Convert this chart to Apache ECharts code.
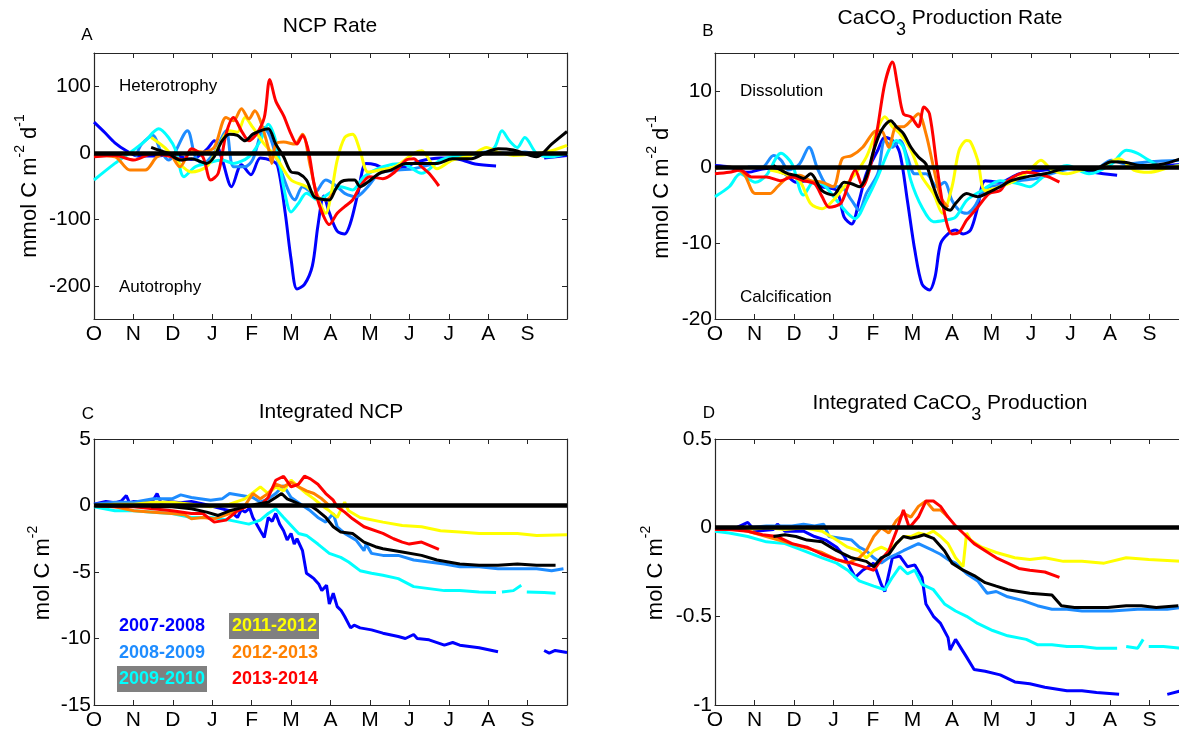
<!DOCTYPE html>
<html>
<head>
<meta charset="utf-8">
<script src="https://cdn.jsdelivr.net/npm/echarts@6/dist/echarts.min.js"></script>
<style>
  html, body { margin: 0; padding: 0; background: #fff; overflow: hidden; }
  /* a little wider than the window: panels B and D run past the right edge */
  #chart { width: 1200px; height: 731px; }
</style>
</head>
<body>
<div id="chart"></div>
<script>
  // x is months since 1 October
  var months = ['O', 'N', 'D', 'J', 'F', 'M', 'A', 'M', 'J', 'J', 'A', 'S', '']
  var years = ['2007-2008', '2008-2009', '2009-2010', '2011-2012', '2012-2013', '2013-2014']

  // A: NCP rate (mmol C m-2 d-1)
  var ncpRate0708 = [[0, 46], [0.28, 30], [0.53, 15], [0.82, 3], [1.11, -5], [1.5, -5], [1.98, -3], [2.47, -10], [2.86, 5], [3.05, 18], [3.25, -10], [3.49, -51], [3.74, -18], [3.98, -33], [4.22, -8], [4.51, -12], [4.66, -20], [4.85, -90], [5.0, -160], [5.15, -205], [5.34, -198], [5.54, -170], [5.68, -110], [5.83, -65], [5.97, -90], [6.17, -118], [6.36, -122], [6.51, -105], [6.7, -60], [6.9, -16], [7.14, -18], [7.43, -25], [7.82, -22], [8.31, -12], [8.79, -8], [9.28, -10], [9.67, -17], [10.2, -20], [10.8, null], [11.42, -8], [12, -4]]
  var ncpRate0809 = [[1.06, -6], [1.21, 13], [1.5, 26], [1.69, 3], [1.89, -11], [2.37, 33], [2.57, -6], [2.76, -16], [3.05, 0], [3.35, 33], [3.54, -21], [3.83, -21], [4.03, -10], [4.32, 38], [4.46, 25], [4.71, -21], [5.1, -71], [5.29, -51], [5.58, -61], [5.88, -41], [6.17, -51], [6.36, -61], [6.65, -66], [6.95, -51], [7.24, -31], [7.72, -26], [8.11, -24], [8.79, -14], [9.28, -6], [9.96, 1], [10.54, -1], [10.93, 1], [11.42, -4], [12, -1]]
  var ncpRate0910 = [[0, -41], [0.53, -16], [0.91, 0], [1.3, 18], [1.64, 36], [1.89, 23], [2.08, 3], [2.28, -36], [2.57, -21], [2.86, -16], [3.25, -11], [3.54, -16], [3.93, -6], [4.22, 18], [4.42, 43], [4.61, 18], [4.81, -51], [5.0, -89], [5.19, -76], [5.39, -61], [5.68, -71], [5.97, -61], [6.26, -51], [6.56, -56], [6.85, -36], [7.33, -21], [7.82, -16], [8.31, -31], [8.79, -11], [9.28, -4], [9.86, -1], [10.16, 8], [10.35, 33], [10.54, 18], [10.74, 8], [10.93, 23], [11.23, -1], [11.61, -6], [12, -1]]
  var ncpRate1112 = [[1.45, 23], [1.79, 8], [2.08, -11], [2.47, -29], [2.86, -21], [3.15, 8], [3.44, 33], [3.64, 31], [3.83, 53], [4.03, 38], [4.32, 13], [4.61, -6], [5.0, -41], [5.39, -51], [5.68, -71], [5.88, -91], [6.02, -61], [6.17, -11], [6.36, 23], [6.56, 28], [6.75, 3], [6.95, -29], [7.24, -26], [7.63, -21], [8.11, -1], [8.31, 3], [8.7, -24], [9.09, -11], [9.57, -4], [9.96, 8], [10.25, 1], [10.64, -4], [11.23, -1], [11.61, 3], [12, 11]]
  var ncpRate1213 = [[0, -4], [0.53, -6], [0.91, -26], [1.3, -26], [1.6, -6], [1.89, -1], [2.18, -21], [2.47, 3], [2.76, 1], [3.05, 8], [3.35, 53], [3.54, 48], [3.74, 66], [3.93, 51], [4.08, 63], [4.22, 48], [4.42, 8], [4.51, -16], [4.61, 13], [4.81, 16], [5.1, 13], [5.29, 28], [5.49, -21], [5.68, -66], [5.88, -71], [6.07, -61]]
  var ncpRate1314 = [[0, -6], [0.53, -4], [1.01, -11], [1.5, -1], [1.98, -6], [2.28, -11], [2.47, 6], [2.76, -6], [2.96, -41], [3.15, -31], [3.35, 28], [3.54, 53], [3.74, 33], [3.93, 18], [4.12, 28], [4.32, 53], [4.46, 110], [4.61, 78], [4.81, 56], [5.0, 28], [5.15, 13], [5.29, 26], [5.44, 3], [5.58, -46], [5.73, -81], [5.97, -108], [6.17, -91], [6.36, -81], [6.56, -71], [6.75, -51], [6.99, -36], [7.33, -39], [7.63, -29], [7.92, -11], [8.11, -9], [8.31, -21], [8.5, -31], [8.75, -50]]
  var ncpRateMean = [[1.45, 8], [1.69, 3], [1.89, -1], [2.18, -11], [2.47, -9], [2.86, -16], [3.05, -6], [3.25, 18], [3.44, 28], [3.64, 26], [3.83, 18], [4.03, 28], [4.22, 33], [4.42, 36], [4.61, 13], [4.81, -6], [5.0, -29], [5.19, -31], [5.39, -41], [5.58, -66], [5.78, -70], [5.97, -71], [6.12, -56], [6.26, -44], [6.46, -41], [6.61, -41], [6.75, -51], [6.95, -44], [7.24, -31], [7.53, -26], [7.92, -16], [8.31, -16], [8.7, -16], [9.09, -9], [9.57, -9], [9.96, 1], [10.25, 6], [10.64, 4], [11.23, -6], [11.61, 13], [12, 32]]

  // B: CaCO3 production rate (mmol C m-2 d-1)
  var caRate0708 = [[0, 0.2], [0.36, 0], [0.83, -0.7], [1.3, -0.2], [1.77, -0.9], [2.05, -2], [2.33, -1.8], [2.71, -2.6], [3.08, -3.1], [3.27, -6.6], [3.46, -7.5], [3.65, -4.4], [3.83, -0.9], [4.12, 2.2], [4.3, 3.9], [4.49, 3.5], [4.68, 1.8], [4.87, -4.4], [5.06, -11], [5.24, -15.4], [5.43, -16.2], [5.57, -14.5], [5.71, -10.1], [5.9, -8.8], [6.09, -8.3], [6.28, -8.8], [6.47, -8.3], [6.65, -5.3], [6.84, -1.8], [7.22, -2], [7.69, -0.9], [8.35, -0.4], [8.91, -0.2], [9.57, -0.7], [10.18, -1.1], [10.8, null], [11.4, 0.2], [12, 0.4]]
  var caRate0809 = [[0.83, 0], [1.2, 0], [1.48, 1.5], [1.67, 0.9], [1.86, -0.4], [2.14, 0.4], [2.38, 2.6], [2.61, -0.4], [2.89, -2.6], [3.18, -2.6], [3.46, -4.4], [3.65, -5.7], [3.83, -3.5], [4.12, -0.9], [4.3, 3.5], [4.49, 2.6], [4.68, 3.5], [4.87, 1.3], [5.06, -0.9], [5.34, -0.9], [5.62, -2.6], [5.81, -2], [6.0, -4.4], [6.18, -5.7], [6.37, -6.1], [6.56, -5.3], [6.75, -3.5], [6.94, -2.6], [7.22, -2.4], [7.69, -1.8], [8.16, -1.5], [8.63, -0.7], [9.1, -0.2], [9.57, -0.4], [10.04, 0.9], [10.41, 0.4], [10.98, 0.7], [11.8, 0.9]]
  var caRate0910 = [[0, -3.9], [0.36, -2.6], [0.64, -0.9], [1.02, -2], [1.3, -1.1], [1.67, 1.8], [1.95, 0.4], [2.24, -3.7], [2.52, -1.8], [2.8, -2.6], [3.08, -4.4], [3.36, -6.1], [3.55, -6.8], [3.83, -4.4], [4.12, -1.3], [4.4, 2.2], [4.59, 3.5], [4.77, 2.6], [4.96, -1.8], [5.24, -5.3], [5.53, -7.2], [5.81, -7], [6.09, -6.6], [6.37, -4.4], [6.75, -3.1], [7.22, -1.8], [7.69, -2.2], [7.97, -2.6], [8.35, -1.1], [8.91, 0.2], [9.47, -0.9], [10.04, 0.4], [10.41, 2.2], [10.7, 1.8], [10.98, 0.9], [11.35, 0], [11.8, 0.2]]
  var caRate1112 = [[1.39, -0.4], [1.77, -0.9], [2.14, -1.8], [2.42, -4.8], [2.71, -5.5], [2.99, -4.4], [3.27, -2.6], [3.55, -0.9], [3.83, 1.3], [4.07, 4.4], [4.3, 6.6], [4.49, 5.3], [4.68, 4.4], [4.96, 2.2], [5.24, -1.3], [5.53, -3.5], [5.76, -6.1], [6.0, -2.6], [6.18, 2.2], [6.37, 3.5], [6.47, 3.3], [6.65, 0.9], [6.84, -3.1], [7.22, -2.6], [7.59, -1.8], [7.97, -0.4], [8.25, 0.9], [8.53, -0.4], [8.91, -0.9], [9.29, -0.4], [9.76, 0], [10.23, 1.1], [10.6, -0.4], [10.98, -0.7], [11.54, 0], [11.8, 0.2]]
  var caRate1213 = [[0, -0.2], [0.36, 0], [0.73, -0.9], [1.02, -3.5], [1.39, -3.5], [1.58, -2.6], [1.86, -1.3], [2.14, -1.1], [2.42, -1.8], [2.71, -2], [2.99, -2.6], [3.22, 1.1], [3.46, 1.5], [3.74, 2.6], [4.02, 4.6], [4.21, 4.8], [4.4, 2.6], [4.59, 5.3], [4.77, 5.3], [4.96, 6.1], [5.15, 7], [5.34, 4.4], [5.53, 0], [5.71, -3.9], [5.9, -5.3]]
  var caRate1314 = [[0, -0.9], [0.36, -0.7], [0.64, -0.4], [0.92, -1.3], [1.3, -1.3], [1.67, -1.8], [1.95, -1.3], [2.24, -1.8], [2.52, -2.2], [2.71, -3.9], [2.89, -5.3], [3.18, -4.8], [3.36, -2.6], [3.55, -0.4], [3.74, -2.6], [3.93, 0], [4.12, 5.3], [4.3, 11], [4.49, 13.8], [4.63, 10.5], [4.77, 7], [4.96, 6.6], [5.15, 5.3], [5.29, 7.9], [5.43, 7], [5.62, 0], [5.81, -6.1], [6.0, -8.8], [6.18, -8.6], [6.37, -7], [6.65, -5.3], [6.94, -3.5], [7.22, -3.1], [7.41, -1.8], [7.88, -0.7], [8.16, -0.9], [8.44, -1.3], [8.72, -2]]
  var caRateMean = [[1.48, 0.2], [1.67, -0.4], [1.86, -0.9], [2.05, -1.1], [2.24, -1.5], [2.42, -0.9], [2.71, -3.1], [2.99, -3.7], [3.27, -2], [3.46, -2.2], [3.65, -2.6], [3.83, -1.3], [4.02, 2.2], [4.21, 4.8], [4.45, 6.1], [4.59, 5.3], [4.77, 4.4], [4.96, 2.6], [5.15, 1.3], [5.34, 0.4], [5.53, -2.6], [5.71, -4.8], [5.95, -5.7], [6.09, -4.8], [6.37, -3.5], [6.65, -3.9], [6.94, -3.3], [7.22, -2.6], [7.5, -1.8], [7.88, -1.3], [8.35, -0.9], [8.91, -0.2], [9.57, -0.4], [10.04, 0.7], [10.41, 0.6], [10.79, 0.2], [11.35, 0.4], [11.8, 1.1], [12, 1.5]]

  // C: integrated NCP (mol C m-2)
  var ncpInt0708 = [[0, 0.1], [0.3, 0.3], [0.53, 0.2], [0.7, 0.35], [0.82, 0.75], [0.9, 0.2], [1.01, 0.3], [1.3, 0.3], [1.5, 0.4], [1.6, 0.9], [1.7, 0.2], [1.89, 0.3], [2.2, 0.2], [2.47, 0.3], [2.8, 0.1], [3.05, -0.1], [3.44, -0.4], [3.64, -0.9], [3.74, -0.3], [3.83, -0.5], [3.95, -0.2], [4.03, -0.9], [4.22, -1.9], [4.32, -2.4], [4.42, -0.9], [4.52, -1.2], [4.61, -0.6], [4.71, -1.4], [4.81, -1.9], [4.9, -2.6], [5.0, -2.1], [5.08, -2.9], [5.15, -2.5], [5.29, -3.4], [5.39, -5.1], [5.49, -5.3], [5.58, -5.5], [5.7, -5.9], [5.78, -6.4], [5.9, -6.0], [5.97, -7.4], [6.07, -6.6], [6.17, -7.6], [6.27, -7.9], [6.36, -8.35], [6.51, -9.2], [6.6, -9.0], [6.75, -9.2], [7.04, -9.35], [7.33, -9.6], [7.72, -9.85], [7.9, -10], [8.11, -9.7], [8.2, -10], [8.5, -10.1], [8.89, -10.5], [9.1, -10.3], [9.28, -10.5], [9.77, -10.7], [10.25, -11], [10.8, null], [11.42, -10.9], [11.55, -11.1], [11.7, -10.9], [12, -11.05]]
  var ncpInt0809 = [[0, 0.1], [0.53, 0.25], [1.01, 0.25], [1.5, 0.5], [1.98, 0.5], [2.2, 0.8], [2.47, 0.6], [2.96, 0.4], [3.25, 0.5], [3.44, 0.9], [3.74, 0.75], [4.03, 0.6], [4.22, 0.25], [4.42, 0.5], [4.61, 0.9], [4.81, 1.5], [5.0, 0.6], [5.29, 0], [5.49, -0.4], [5.68, -0.9], [5.88, -1.25], [6.07, -0.6], [6.17, -1.6], [6.36, -2.1], [6.65, -2.6], [6.85, -3.4], [6.9, -2.9], [7.04, -3.6], [7.33, -3.75], [7.72, -3.75], [8.11, -4.1], [8.5, -4.25], [8.89, -4.4], [9.28, -4.6], [9.77, -4.6], [10.25, -4.75], [10.74, -4.75], [11.23, -4.75], [11.61, -4.9], [11.91, -4.75]]
  var ncpInt0910 = [[0, -0.1], [0.53, -0.4], [1.01, -0.4], [1.5, -0.5], [1.98, -0.6], [2.47, -0.9], [2.96, -0.9], [3.44, -1.1], [3.93, -1.4], [4.22, -1.1], [4.42, -0.6], [4.61, -0.25], [4.81, -0.9], [5.0, -1.5], [5.19, -2.1], [5.39, -2.25], [5.68, -2.9], [5.97, -3.6], [6.26, -3.9], [6.46, -4.25], [6.75, -4.9], [7.04, -5.1], [7.33, -5.25], [7.72, -5.5], [8.11, -6.1], [8.5, -6.25], [8.89, -6.4], [9.28, -6.4], [9.77, -6.5], [10.2, -6.55], [10.28, null], [10.35, -6.5], [10.64, -6.4], [10.84, -6.0], [10.9, null], [10.98, -6.5], [11.42, -6.55], [11.71, -6.6]]
  var ncpInt1112 = [[0, 0], [0.53, 0.1], [1.01, 0.1], [1.5, 0.25], [1.98, 0.25], [2.47, 0.1], [2.96, -0.1], [3.44, 0.1], [3.83, 0.5], [4.22, 1.4], [4.42, 0.9], [4.61, 1.4], [4.81, 1.1], [5.0, 1.9], [5.19, 1.4], [5.39, 0.9], [5.58, 0.5], [5.78, 0], [5.97, -0.4], [6.17, -0.9], [6.36, 0.25], [6.46, -0.4], [6.75, -0.9], [7.33, -1.25], [7.82, -1.5], [8.31, -1.6], [8.79, -1.9], [9.28, -2.0], [9.77, -2.1], [10.25, -2.1], [10.74, -2.1], [11.23, -2.25], [12, -2.2]]
  var ncpInt1213 = [[0, 0], [0.53, -0.1], [1.01, -0.4], [1.5, -0.5], [1.98, -0.6], [2.3, -0.7], [2.47, -1.0], [2.76, -0.9], [3.05, -1.0], [3.44, -0.6], [3.83, 0], [4.03, 0.9], [4.22, 0.5], [4.42, 0.9], [4.61, 1.6], [4.81, 1.4], [5.0, 1.75], [5.19, 1.4], [5.39, 1.1], [5.58, 0.9], [5.78, 0.5], [5.97, 0]]
  var ncpInt1314 = [[0, 0], [0.53, -0.1], [1.01, -0.1], [1.5, -0.25], [1.98, -0.4], [2.47, -0.6], [2.76, -0.6], [3.05, -1.25], [3.35, -1.1], [3.64, -0.4], [3.93, 0], [4.22, 0], [4.42, 0.6], [4.61, 1.9], [4.81, 2.2], [5.0, 1.4], [5.19, 1.6], [5.34, 2.2], [5.49, 2.0], [5.68, 1.6], [5.88, 0.9], [6.07, 0.4], [6.17, -0.1], [6.36, -0.5], [6.56, -1.0], [6.85, -1.6], [7.33, -2.1], [7.6, -2.5], [7.82, -2.75], [8.0, -2.9], [8.31, -2.75], [8.75, -3.3]]
  var ncpIntMean = [[1.45, -0.1], [1.98, -0.1], [2.47, -0.25], [2.86, -0.5], [3.15, -0.75], [3.44, -0.4], [3.83, -0.1], [4.12, 0.1], [4.42, 0.25], [4.61, 0.6], [4.76, 0.9], [4.9, 0.5], [5.1, 0.25], [5.29, 0], [5.49, 0], [5.68, -0.4], [5.88, -0.9], [6.07, -1.6], [6.26, -2.0], [6.56, -2.1], [6.85, -2.75], [7.14, -3.1], [7.33, -3.25], [7.82, -3.5], [8.31, -3.75], [8.7, -4.1], [8.99, -4.25], [9.28, -4.4], [9.77, -4.5], [10.25, -4.5], [10.74, -4.4], [11.23, -4.5], [11.71, -4.5]]

  // D: integrated CaCO3 production (mol C m-2)
  var caInt0708 = [[0, -0.01], [0.45, -0.01], [0.83, 0.03], [1.02, -0.02], [1.48, -0.01], [1.58, 0.02], [1.77, -0.02], [2.24, -0.02], [2.52, -0.05], [2.8, -0.07], [3.08, -0.11], [3.27, -0.16], [3.55, -0.28], [3.74, -0.24], [4.02, -0.2], [4.21, -0.32], [4.3, -0.36], [4.49, -0.17], [4.68, -0.16], [4.87, -0.22], [5.06, -0.21], [5.24, -0.28], [5.34, -0.43], [5.53, -0.5], [5.71, -0.54], [5.9, -0.62], [5.95, -0.69], [6.09, -0.63], [6.37, -0.73], [6.56, -0.8], [6.84, -0.81], [7.22, -0.83], [7.59, -0.87], [7.97, -0.88], [8.35, -0.9], [8.91, -0.92], [9.29, -0.92], [9.66, -0.93], [10.23, -0.94], [10.8, null], [11.45, -0.94], [11.8, -0.92], [12, -0.92]]
  var caInt0809 = [[0, -0.01], [0.36, -0.01], [0.83, 0], [1.3, 0.01], [1.58, 0.01], [1.95, 0.01], [2.24, 0.02], [2.52, 0.01], [2.75, 0.02], [2.89, -0.05], [3.18, -0.06], [3.46, -0.07], [3.65, -0.11], [3.83, -0.13], [4.02, -0.17], [4.21, -0.2], [4.4, -0.17], [4.59, -0.15], [4.77, -0.13], [4.96, -0.11], [5.15, -0.09], [5.34, -0.11], [5.53, -0.13], [5.71, -0.15], [5.9, -0.18], [6.09, -0.2], [6.37, -0.26], [6.65, -0.3], [6.89, -0.37], [7.12, -0.36], [7.41, -0.39], [7.78, -0.41], [8.16, -0.44], [8.53, -0.46], [8.91, -0.46], [9.29, -0.47], [10.04, -0.47], [10.7, -0.46], [11.45, -0.46], [11.8, -0.45]]
  var caInt0910 = [[0, -0.02], [0.36, -0.03], [0.83, -0.05], [1.3, -0.08], [1.77, -0.09], [2.24, -0.13], [2.71, -0.17], [3.08, -0.2], [3.36, -0.24], [3.65, -0.3], [4.02, -0.33], [4.3, -0.35], [4.49, -0.28], [4.68, -0.22], [4.87, -0.26], [5.06, -0.24], [5.24, -0.32], [5.53, -0.35], [5.81, -0.43], [6.09, -0.47], [6.37, -0.5], [6.65, -0.54], [7.03, -0.58], [7.41, -0.61], [7.88, -0.63], [8.16, -0.66], [8.53, -0.66], [8.91, -0.67], [9.29, -0.67], [9.66, -0.68], [10.18, -0.68], [10.3, null], [10.41, -0.67], [10.7, -0.68], [10.84, -0.63], [10.9, null], [10.98, -0.67], [11.35, -0.67], [11.8, -0.68]]
  var caInt1112 = [[0, -0.01], [0.83, -0.01], [1.3, 0], [1.77, -0.01], [2.24, 0], [2.71, -0.02], [3.08, -0.07], [3.36, -0.11], [3.65, -0.13], [3.83, -0.17], [4.02, -0.13], [4.21, -0.11], [4.4, -0.13], [4.59, -0.09], [4.77, -0.05], [4.96, -0.05], [5.15, -0.03], [5.34, -0.04], [5.53, -0.02], [5.71, -0.05], [5.9, -0.09], [6.09, -0.17], [6.28, -0.22], [6.37, -0.03], [6.47, -0.07], [6.75, -0.11], [7.12, -0.14], [7.59, -0.17], [7.97, -0.18], [8.35, -0.17], [8.82, -0.19], [9.29, -0.19], [9.85, -0.2], [10.41, -0.17], [10.98, -0.18], [11.8, -0.19]]
  var caInt1213 = [[0, -0.01], [0.36, 0], [0.83, -0.02], [1.3, -0.05], [1.77, -0.08], [2.24, -0.11], [2.71, -0.14], [3.08, -0.18], [3.36, -0.2], [3.65, -0.17], [3.83, -0.13], [4.02, -0.05], [4.21, 0], [4.4, -0.03], [4.59, 0.04], [4.77, 0.08], [4.96, 0.06], [5.15, 0.12], [5.34, 0.15], [5.53, 0.1], [5.71, 0.1], [5.9, 0.06]]
  var caInt1314 = [[0, -0.01], [0.36, -0.01], [0.83, -0.02], [1.2, -0.04], [1.58, -0.05], [1.95, -0.09], [2.33, -0.11], [2.71, -0.15], [3.08, -0.18], [3.46, -0.2], [3.74, -0.22], [4.02, -0.24], [4.21, -0.18], [4.4, -0.13], [4.59, -0.02], [4.77, 0.1], [4.92, 0], [5.15, 0.06], [5.34, 0.15], [5.53, 0.15], [5.71, 0.12], [5.9, 0.06], [6.09, 0.01], [6.28, -0.03], [6.56, -0.09], [6.84, -0.13], [7.12, -0.17], [7.41, -0.2], [7.69, -0.23], [7.97, -0.24], [8.35, -0.25], [8.72, -0.28]]
  var caIntMean = [[1.48, -0.05], [1.77, -0.04], [2.05, -0.05], [2.33, -0.07], [2.71, -0.08], [3.08, -0.13], [3.46, -0.17], [3.83, -0.19], [4.02, -0.22], [4.21, -0.17], [4.4, -0.15], [4.59, -0.09], [4.77, -0.05], [4.96, -0.06], [5.15, -0.05], [5.29, -0.04], [5.53, -0.06], [5.81, -0.13], [6.0, -0.2], [6.28, -0.24], [6.56, -0.27], [6.84, -0.31], [7.12, -0.33], [7.41, -0.35], [7.69, -0.36], [7.97, -0.37], [8.53, -0.38], [8.77, -0.44], [9.1, -0.45], [9.57, -0.45], [9.94, -0.45], [10.41, -0.44], [10.79, -0.44], [11.17, -0.45], [11.73, -0.44]]

  var ncpRateTicks = [-200, -100, 0, 100]
  var caRateTicks = [-20, -10, 0, 10]
  var ncpIntTicks = [-15, -10, -5, 0, 5]
  var caIntTicks = [-1, -0.5, 0, 0.5]

  var colors = ['#0000ff', '#1e8cff', '#00ffff', '#ffff00', '#ff8000', '#ff0000']
  var font = '"Liberation Sans", Arial, Helvetica, sans-serif'
  var axisColor = '#262626'

  var grids = [
    {left: 94, top: 53, width: 473, height: 266},
    {left: 715, top: 53, width: 474, height: 266},
    {left: 94, top: 439, width: 473, height: 267},
    {left: 715, top: 439, width: 474, height: 267}
  ]
  var yRanges = [[-250, 150], [-20, 15], [-15, 5], [-1, 0.5]]
  var yTicks = [ncpRateTicks, caRateTicks, ncpIntTicks, caIntTicks]

  var xAxes = []
  var yAxes = []
  grids.forEach(function (g, i) {
    var line = {onZero: false, lineStyle: {color: axisColor, width: 1.2}}
    var tick = {inside: true, length: 5, lineStyle: {color: axisColor}}
    xAxes.push({
      gridIndex: i, type: 'value', min: 0, max: 12, interval: 1, position: 'bottom',
      axisLine: line, axisTick: tick,
      axisLabel: {
        color: '#000', fontSize: 21, fontFamily: font, margin: 5,
        formatter: function (v) { return months[Math.round(v)] }
      },
      splitLine: {show: false}
    })
    xAxes.push({
      gridIndex: i, type: 'value', min: 0, max: 12, interval: 1, position: 'top',
      axisLine: line, axisTick: tick,
      axisLabel: {show: false},
      splitLine: {show: false}
    })
    yAxes.push({
      gridIndex: i, type: 'value', min: yRanges[i][0], max: yRanges[i][1], position: 'left',
      axisLine: line,
      axisTick: {inside: true, length: 5, customValues: yTicks[i], lineStyle: {color: axisColor}},
      axisLabel: {color: '#000', fontSize: 21, fontFamily: font, margin: 3, customValues: yTicks[i]},
      splitLine: {show: false}
    })
    yAxes.push({
      gridIndex: i, type: 'value', min: yRanges[i][0], max: yRanges[i][1], position: 'right',
      axisLine: line,
      axisTick: {inside: true, length: 5, customValues: yTicks[i], lineStyle: {color: axisColor}},
      axisLabel: {show: false},
      splitLine: {show: false}
    })
  })

  function panelSeries (i, sets, mean, smooth) {
    var out = sets.map(function (d, k) {
      return {
        name: years[k], type: 'line', xAxisIndex: i * 2, yAxisIndex: i * 2,
        data: d, showSymbol: false, smooth: smooth, connectNulls: false,
        lineStyle: {color: colors[k], width: 3}
      }
    })
    out.push({
      name: 'mean', type: 'line', xAxisIndex: i * 2, yAxisIndex: i * 2,
      data: mean, showSymbol: false, smooth: smooth,
      lineStyle: {color: '#000', width: 3},
      markLine: {
        silent: true, symbol: 'none', label: {show: false},
        lineStyle: {color: '#000', width: 4.5, type: 'solid'},
        data: [{yAxis: 0}]
      }
    })
    return out
  }

  var series = [].concat(
    panelSeries(0, [ncpRate0708, ncpRate0809, ncpRate0910, ncpRate1112, ncpRate1213, ncpRate1314], ncpRateMean, 0.3),
    panelSeries(1, [caRate0708, caRate0809, caRate0910, caRate1112, caRate1213, caRate1314], caRateMean, 0.3),
    panelSeries(2, [ncpInt0708, ncpInt0809, ncpInt0910, ncpInt1112, ncpInt1213, ncpInt1314], ncpIntMean, false),
    panelSeries(3, [caInt0708, caInt0809, caInt0910, caInt1112, caInt1213, caInt1314], caIntMean, false)
  )

  function txt (x, y, text, size, opts) {
    opts = opts || {}
    return {
      type: 'text', x: x, y: y, rotation: opts.rotation || 0, z: 100,
      style: {
        text: text, fontSize: size, fontFamily: font, fontWeight: opts.weight || 'normal',
        fill: opts.color || '#000',
        align: opts.align || 'center', textAlign: opts.align || 'center',
        verticalAlign: 'middle', textVerticalAlign: 'middle',
        lineHeight: opts.lineHeight || size + 4,
        rich: {
          sup: {fontSize: 14, fontFamily: font, verticalAlign: 'top', lineHeight: 14},
          sub: {fontSize: 18, fontFamily: font, verticalAlign: 'bottom', lineHeight: 18}
        }
      }
    }
  }
  var up = Math.PI / 2

  var graphics = [
    txt(330, 26, 'NCP Rate', 21),
    txt(950, 18, 'CaCO{sub|3} Production Rate', 21, {lineHeight: 43}),
    txt(331, 412, 'Integrated NCP', 21),
    txt(950, 403, 'Integrated CaCO{sub|3} Production', 21, {lineHeight: 43}),
    txt(87, 35, 'A', 17),
    txt(708, 31, 'B', 17),
    txt(88, 414, 'C', 17),
    txt(709, 413, 'D', 17),
    txt(119, 86, 'Heterotrophy', 17, {align: 'left'}),
    txt(119, 287, 'Autotrophy', 17, {align: 'left'}),
    txt(740, 91, 'Dissolution', 17, {align: 'left'}),
    txt(740, 297, 'Calcification', 17, {align: 'left'}),
    txt(30, 186, 'mmol C m{sup|-2} d{sup|-1}', 22, {rotation: up, lineHeight: 34}),
    txt(662, 187, 'mmol C m{sup|-2} d{sup|-1}', 22, {rotation: up, lineHeight: 34}),
    txt(43, 573, 'mol C m{sup|-2}', 22, {rotation: up, lineHeight: 34}),
    txt(656, 573, 'mol C m{sup|-2}', 22, {rotation: up, lineHeight: 34}),
    {type: 'rect', z: 99, shape: {x: 117, y: 666, width: 90, height: 26}, style: {fill: '#808080'}},
    {type: 'rect', z: 99, shape: {x: 229, y: 613, width: 90, height: 26}, style: {fill: '#808080'}}
  ]
  // legend of panel C
  var legendPos = [[119, 626], [119, 653], [119, 679], [232, 626], [232, 653], [232, 679]]
  years.forEach(function (y, k) {
    graphics.push(txt(legendPos[k][0], legendPos[k][1], y, 18, {align: 'left', weight: 'bold', color: colors[k]}))
  })

  var chart = echarts.init(document.getElementById('chart'), null, {renderer: 'canvas'})
  chart.setOption({
    animation: false,
    backgroundColor: '#fff',
    grid: grids,
    xAxis: xAxes,
    yAxis: yAxes,
    series: series,
    graphic: graphics
  })
</script>
</body>
</html>
